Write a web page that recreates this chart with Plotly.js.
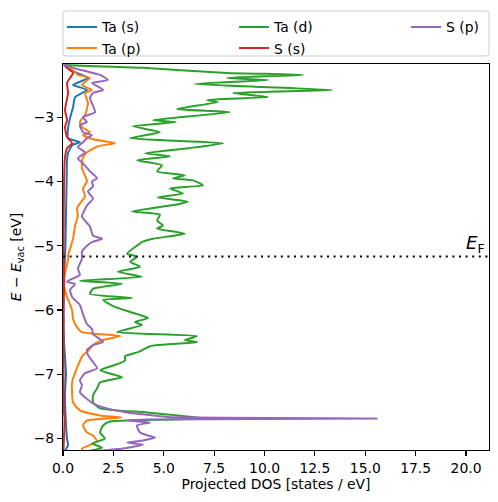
<!DOCTYPE html>
<html>
<head>
<meta charset="utf-8">
<script src="https://cdn.plot.ly/plotly-3.0.1.min.js"></script>
<style>html,body{margin:0;padding:0;background:#fff;}#chart{width:498px;height:502px;}</style>
</head>
<body>
<div id="chart"></div>
<script>
// Energies (eV) and projected DOS (states/eV)
const taS_E = [-2.172,-2.234,-2.313,-2.391,-2.5,-2.578,-2.688,-2.844,-3.016,-3.172,-3.328,-3.391,-3.438,-3.563,-3.672,-4.0,-4.5,-5.0,-5.3,-5.5,-6.0,-6.5,-7.0,-7.3,-7.6,-8.0,-8.1,-8.19];
const taS_D = [0.05,0.2,0.69,1.24,0.5,1.19,0.6,0.5,0.35,0.25,0.25,0.84,0.45,0.25,0.2,0.18,0.15,0.12,0.08,0.05,0.03,0.05,0.15,0.1,0.12,0.2,0.25,0.1];

const taP_E = [-2.172,-2.30,-2.344,-2.391,-2.5,-2.578,-2.625,-2.781,-2.969,-3.078,-3.156,-3.234,-3.281,-3.344,-3.406,-3.453,-3.547,-3.625,-3.797,-3.906,-4.0,-4.109,-4.234,-4.344,-4.422,-4.531,-4.688,-4.891,-5.047,-5.156,-5.219,-5.563,-5.797,-6.0,-6.141,-6.266,-6.344,-6.406,-6.469,-6.547,-6.656,-6.703,-6.906,-7.125,-7.438,-7.563,-7.641,-7.672,-7.719,-7.797,-7.906,-7.953,-8.047,-8.156,-8.19];
const taP_D = [0.1,0.6,0.74,1.34,0.94,1.44,1.09,1.24,1.09,0.84,0.94,1.34,0.99,1.49,2.58,1.74,1.19,0.99,0.94,1.09,1.19,0.99,1.09,0.84,0.69,0.74,0.6,0.5,0.35,0.25,0.25,0.02,0.2,0.45,0.5,0.69,0.94,2.83,1.94,1.49,1.19,0.99,0.69,0.45,0.5,0.84,1.84,2.9,1.19,0.99,1.19,1.49,1.69,0.94,0.99];

const taD_E = [-2.172,-2.188,-2.234,-2.313,-2.344,-2.391,-2.422,-2.484,-2.578,-2.625,-2.688,-2.734,-2.766,-2.875,-2.922,-3.047,-3.078,-3.141,-3.234,-3.328,-3.406,-3.484,-3.563,-3.609,-3.672,-3.75,-3.844,-3.906,-3.953,-3.984,-4.063,-4.109,-4.188,-4.25,-4.313,-4.359,-4.469,-4.516,-4.609,-4.688,-4.734,-4.813,-4.891,-4.938,-5.0,-5.125,-5.172,-5.25,-5.328,-5.406,-5.484,-5.547,-5.594,-5.672,-5.75,-5.813,-5.844,-5.953,-6.031,-6.125,-6.188,-6.234,-6.344,-6.406,-6.469,-6.5,-6.563,-6.656,-6.719,-6.781,-6.828,-6.938,-7.047,-7.125,-7.219,-7.328,-7.438,-7.531,-7.594,-7.688,-7.734,-7.797,-7.906,-8.0,-8.078,-8.141,-8.19];
const taD_D = [0,0.2,3.97,8.14,11.91,8.14,10.17,6.55,13.35,8.44,10.17,7.15,7.69,5.66,8.29,4.47,5.61,3.47,4.81,3.33,7.94,6.2,4.07,5.31,3.67,4.91,4.67,6.05,5.46,6.45,6.95,5.31,5.96,4.71,6.2,5.66,3.42,4.81,4.67,4.96,4.67,6.05,4.47,3.97,3.67,3.18,3.67,3.33,3.82,2.73,3.92,0.84,2.93,1.49,1.34,3.42,1.99,2.58,3.33,4.22,3.57,3.92,2.68,6.65,6.05,6.65,4.32,3.72,3.08,3.08,2.83,1.84,2.93,1.84,1.69,1.49,1.49,1.84,4.17,7.15,2.33,1.99,1.84,2.08,1.44,1.94,1.34];

const sS_E = [-2.172,-2.234,-2.313,-2.391,-2.469,-2.625,-2.891,-3.047,-3.156,-3.313,-3.406,-3.484,-3.625,-4.0,-5.0,-5.5,-6.0,-7.0,-7.6,-7.7,-8.19];
const sS_D = [0.05,0.2,0.5,0.35,0.2,0.25,0.1,0.2,0.1,0.2,0.45,0.2,0.1,0.05,0.03,0.06,0.02,0.03,0.05,0.08,0.02];

const sP_E = [-2.172,-2.234,-2.344,-2.422,-2.469,-2.578,-2.625,-2.703,-2.922,-3.0,-3.078,-3.125,-3.234,-3.281,-3.328,-3.391,-3.469,-3.547,-3.641,-3.719,-3.844,-3.953,-4.0,-4.078,-4.156,-4.266,-4.375,-4.5,-4.547,-4.703,-4.844,-4.891,-4.938,-5.0,-5.094,-5.203,-5.359,-5.453,-5.531,-5.563,-5.594,-5.688,-5.797,-5.922,-6.063,-6.219,-6.297,-6.375,-6.422,-6.5,-6.547,-6.625,-6.703,-6.906,-6.984,-7.094,-7.172,-7.281,-7.359,-7.453,-7.531,-7.594,-7.641,-7.665,-7.688,-7.705,-7.719,-7.75,-7.797,-7.906,-7.953,-7.984,-8.031,-8.063,-8.094,-8.156,-8.19];
const sP_D = [0,0.5,1.84,2.23,1.44,1.99,1.49,1.34,1.59,0.99,1.19,0.84,0.99,1.44,1.19,0.99,0.74,1.09,0.74,0.99,1.34,1.69,1.44,1.49,1.24,1.49,1.19,0.99,0.94,1.34,1.49,1.94,1.49,1.19,0.94,0.94,0.74,0.84,0.35,0.2,0.6,0.35,0.45,0.84,0.99,1.19,1.44,1.49,1.69,1.99,1.49,1.19,1.24,1.69,1.09,0.84,0.94,0.84,1.09,1.49,2.18,3.18,4.47,5.2,15.58,4.2,3.18,4.32,3.67,3.82,4.22,4.57,3.97,3.18,3.97,2.98,1.84];

const seriesNames = ["Ta (s)","Ta (p)","Ta (d)","S (s)","S (p)"];
const seriesColors = ["#1f77b4","#ff7f0e","#2ca02c","#d62728","#9467bd"];
const fermiLevel = -5.17;
const xTickVals = [0,2.5,5,7.5,10,12.5,15,17.5,20];
const yTickVals = [-8,-7,-6,-5,-4,-3];

const W = 498, H = 502;
const M = {l: 63, r: 9, t: 64, b: 52};
const pw = W - M.l - M.r, ph = H - M.t - M.b;
const px2x = p => (p - M.l) / pw;
const py2y = p => 1 - (p - M.t) / ph;

const FONT = "DejaVu Sans, sans-serif";
const FS = 13.9;

const data = [
  [taS_D, taS_E, 'legend'],
  [taP_D, taP_E, 'legend'],
  [taD_D, taD_E, 'legend2'],
  [sS_D, sS_E, 'legend2'],
  [sP_D, sP_E, 'legend3']
].map((s, i) => ({
  type: 'scatter', mode: 'lines', x: s[0], y: s[1],
  name: seriesNames[i], legend: s[2],
  line: {color: seriesColors[i], width: 2, shape: 'spline', smoothing: 0.5},
  hoverinfo: 'skip'
}));

// rounded legend frame path (pixel -> paper)
const bx0 = 63, bx1 = 489, by0 = 11, by1 = 56, r = 3;
const P = (x, y) => px2x(x).toFixed(5) + ',' + py2y(y).toFixed(5);
const framePath = 'M' + P(bx0 + r, by0) + ' L' + P(bx1 - r, by0) + ' Q' + P(bx1, by0) + ' ' + P(bx1, by0 + r) +
  ' L' + P(bx1, by1 - r) + ' Q' + P(bx1, by1) + ' ' + P(bx1 - r, by1) +
  ' L' + P(bx0 + r, by1) + ' Q' + P(bx0, by1) + ' ' + P(bx0, by1 - r) +
  ' L' + P(bx0, by0 + r) + ' Q' + P(bx0, by0) + ' ' + P(bx0 + r, by0) + ' Z';

const legendBase = (xpx) => ({
  x: px2x(xpx), xanchor: 'left', y: py2y(11.5), yanchor: 'top',
  orientation: 'v', bgcolor: 'rgba(0,0,0,0)', borderwidth: 0,
  font: {family: FONT, size: FS, color: '#000'}, tracegroupgap: 0
});

const layout = {
  width: W, height: H,
  margin: M,
  paper_bgcolor: '#fff', plot_bgcolor: '#fff',
  font: {family: FONT, size: FS, color: '#000'},
  showlegend: true,
  legend: legendBase(62),
  legend2: legendBase(234),
  legend3: legendBase(406),
  xaxis: {
    range: [0, 21.14], tickvals: xTickVals, tickformat: '.1f',
    ticks: 'outside', ticklen: 4.9, tickwidth: 1.1, tickcolor: '#000',
    showline: true, linecolor: '#000', linewidth: 1.1, mirror: true,
    showgrid: false, zeroline: false,
    tickfont: {family: FONT, size: FS, color: '#000'},
    title: {text: 'Projected DOS [states / eV]', font: {family: FONT, size: FS, color: '#000'}, standoff: 3}
  },
  yaxis: {
    range: [-8.178, -2.174], tickvals: yTickVals,
    ticks: 'outside', ticklen: 4.9, tickwidth: 1.1, tickcolor: '#000',
    showline: true, linecolor: '#000', linewidth: 1.1, mirror: true,
    showgrid: false, zeroline: false,
    tickfont: {family: FONT, size: FS, color: '#000'},
    title: {text: '<i>E</i> − <i>E</i><sub>vac</sub> [eV]', font: {family: FONT, size: FS, color: '#000'}, standoff: 8}
  },
  shapes: [
    {type: 'line', xref: 'paper', x0: 0, x1: 1, yref: 'y', y0: fermiLevel, y1: fermiLevel,
     line: {color: '#000', width: 2, dash: '2px,4.6px'}},
    {type: 'path', xref: 'paper', yref: 'paper', path: framePath,
     line: {color: '#cccccc', width: 1}, fillcolor: 'rgba(255,255,255,0.8)', layer: 'below'}
  ],
  annotations: [
    {x: 19.9, y: fermiLevel, xref: 'x', yref: 'y', xanchor: 'left', yanchor: 'bottom',
     text: '<i>E</i><sub>F</sub>', showarrow: false, font: {family: FONT, size: 18, color: '#000'}, yshift: -1}
  ]
};

Plotly.newPlot('chart', data, layout, {displayModeBar: false, staticPlot: true});
</script>
</body>
</html>
